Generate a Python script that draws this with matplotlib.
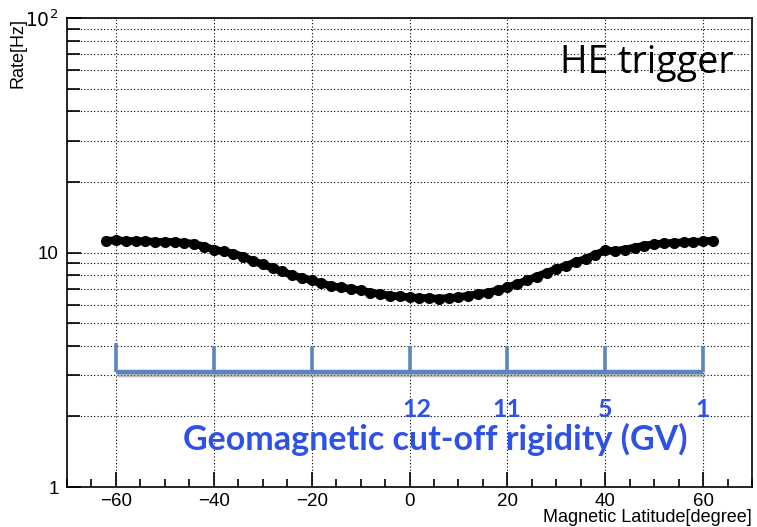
import matplotlib
matplotlib.use("Agg")
import matplotlib.pyplot as plt
import matplotlib.patheffects as pe
from matplotlib.ticker import MultipleLocator, NullFormatter

# data
lat = [-62, -60, -58, -56, -54, -52, -50, -48, -46, -44, -42, -40, -38, -36,
       -34, -32, -30, -28, -26, -24, -22, -20, -18, -16, -14, -12, -10, -8,
       -6, -4, -2, 0, 2, 4, 6, 8, 10, 12, 14, 16, 18, 20, 22, 24, 26, 28, 30,
       32, 34, 36, 38, 40, 42, 44, 46, 48, 50, 52, 54, 56, 58, 60, 62]
rate = [11.2, 11.3, 11.2, 11.2, 11.2, 11.1, 11.1, 11.1, 11.0, 10.9, 10.6,
        10.3, 10.1, 9.9, 9.6, 9.2, 8.9, 8.6, 8.3, 8.0, 7.8, 7.6, 7.4, 7.2,
        7.1, 7.0, 6.9, 6.75, 6.65, 6.55, 6.5, 6.45, 6.4, 6.4, 6.35, 6.4,
        6.45, 6.55, 6.65, 6.75, 6.9, 7.1, 7.35, 7.6, 7.9, 8.2, 8.5, 8.8,
        9.1, 9.4, 9.8, 10.2, 10.15, 10.3, 10.5, 10.7, 10.85, 10.95, 11.0,
        11.05, 11.1, 11.15, 11.25]

bracket_lat = [-60, -40, -20, 0, 20, 40, 60]
bracket_low = 3.1
bracket_high = 4.0
cutoff_lat = [1.5, 20, 40, 60]
cutoff_gv = ["12", "11", "5", "1"]

plt.rcParams['font.family'] = ['Liberation Sans', 'DejaVu Sans']

fig = plt.figure(figsize=(7.57, 5.27), dpi=100)
ax = fig.add_axes([0.0885, 0.0759, 0.905, 0.8899])

ax.set_yscale('log')
ax.set_xlim(-70, 70)
ax.set_ylim(1, 100)

# grid like ROOT (dotted)
ax.grid(True, which='major', axis='x', linestyle=(0, (1, 2)), color='black', lw=0.8)
ax.grid(True, which='both', axis='y', linestyle=(0, (1, 2)), color='black', lw=0.8)
ax.set_axisbelow(True)

ax.plot(lat, rate, '-o', color='black', lw=5.5, ms=7, zorder=3)

# cut-off rigidity bracket
shadow = [pe.SimpleLineShadow(offset=(1.5, -2.5), shadow_color='gray', alpha=0.5), pe.Normal()]
bc = '#5a86bd'
ax.plot([bracket_lat[0], bracket_lat[-1]], [bracket_low, bracket_low], color=bc, lw=3.2,
        solid_capstyle='butt', path_effects=shadow, zorder=4)
for i, x in enumerate(bracket_lat):
    top = bracket_high * 1.03 if i == 0 else bracket_high
    ax.plot([x, x], [bracket_low, top], color=bc, lw=2.6, solid_capstyle='butt', zorder=4)

tc = '#2f52e6'
for x, s in zip(cutoff_lat, cutoff_gv):
    ax.text(x, 2.13, s, color=tc, fontsize=18, fontweight='bold', ha='center', va='center',
            family=['Lato', 'DejaVu Sans'])
ax.text(5.2, 1.59, "Geomagnetic cut-off rigidity (GV)", color=tc, fontsize=24.5,
        fontweight='bold', ha='center', va='center', family=['Lato', 'DejaVu Sans'])

ax.text(0.847, 0.905, "HE trigger", transform=ax.transAxes, fontsize=27, ha='center',
        va='center', family=['Open Sans', 'DejaVu Sans'])

# ticks
ax.xaxis.set_major_locator(MultipleLocator(20))
ax.xaxis.set_minor_locator(MultipleLocator(5))
ax.set_yticks([1, 10, 100])
ax.set_yticklabels(['1', '10', r'$10^2$'])
ax.yaxis.set_minor_formatter(NullFormatter())
ax.tick_params(axis='x', which='major', direction='in', length=11, width=1.2,
               labelsize=13.5, pad=4)
ax.tick_params(axis='x', which='minor', direction='in', length=6, width=1.2)
ax.tick_params(axis='y', which='major', direction='in', length=10, width=1.2,
               labelsize=13.5, pad=6)
ax.tick_params(axis='y', which='minor', direction='in', length=9, width=1.2)

ax.set_xlabel("Magnetic Latitude[degree]", fontsize=13)
ax.xaxis.set_label_coords(1.0, -0.074)
ax.xaxis.label.set_ha('right')
ax.xaxis.label.set_va('baseline')

ax.set_ylabel("Rate[Hz]", fontsize=13)
ax.yaxis.set_label_coords(-0.072, 1.0)
ax.yaxis.label.set_ha('right')
ax.yaxis.label.set_va('center')

for s in ax.spines.values():
    s.set_linewidth(1.2)

fig.savefig("out.png", dpi=100)
